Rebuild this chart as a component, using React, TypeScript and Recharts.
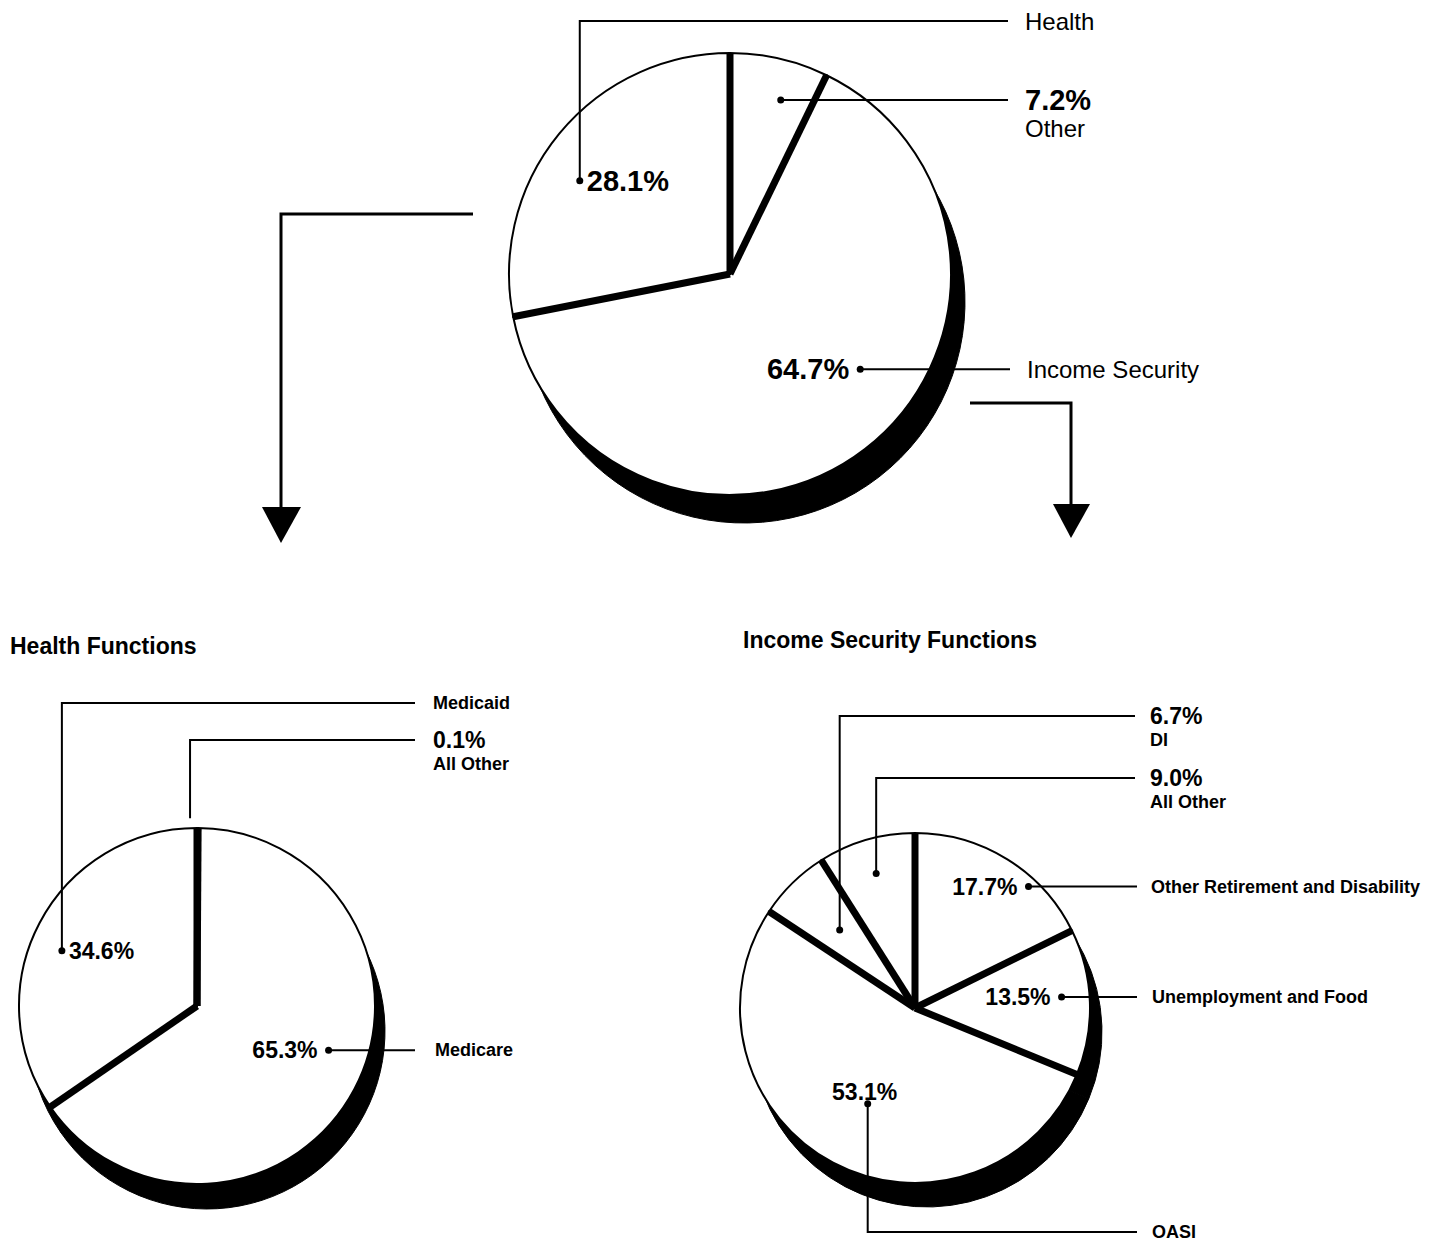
import { PieChart, Pie } from 'recharts';

const FONT = '"Liberation Sans", Arial, Helvetica, sans-serif';
const RAD = Math.PI / 180;
const W = 1436;
const H = 1244;

// Shares in percent, listed clockwise from twelve o'clock
const overviewNames = ['Other', 'Income Security', 'Health'];
const overviewShares = [7.2, 64.7, 28.1];

const healthNames = ['All Other', 'Medicare', 'Medicaid'];
const healthShares = [0.1, 65.3, 34.6];

const incomeNames = ['Other Retirement and Disability', 'Unemployment and Food', 'OASI', 'DI', 'All Other'];
const incomeShares = [17.7, 13.5, 53.1, 6.7, 9.0];

const rows = (names: string[], values: number[]) =>
  names.map((name, i) => ({ name, value: values[i] }));

const overviewData = rows(overviewNames, overviewShares);
const healthData = rows(healthNames, healthShares);
const incomeData = rows(incomeNames, incomeShares);

// pie placement: centre, radius and drop-shadow offset
const overviewPie = { cx: 730, cy: 274, r: 221, dx: 14, dy: 28 };
const healthPie = { cx: 197, cy: 1006, r: 178, dx: 10, dy: 25 };
const incomePie = { cx: 915, cy: 1008, r: 175, dx: 12, dy: 24 };

type Callout = {
  turn: number; // dot shift from the slice middle, degrees clockwise
  r: number; // dot distance as a fraction of the radius
  dot: boolean;
  bendY?: number; // leader runs vertically to this y before turning right
  lineEnd: number;
  textX: number;
  pct: 'left' | 'right' | 'stack' | 'above';
};

type TextStyle = { pctSize: number; nameSize: number; nameWeight: number; stackGap: number };

const overviewCallouts: Record<string, Callout> = {
  Other: { turn: 3.3, r: 0.82, dot: true, lineEnd: 1008, textX: 1025, pct: 'stack' },
  'Income Security': { turn: -16.2, r: 0.73, dot: true, lineEnd: 1010, textX: 1027, pct: 'left' },
  Health: { turn: -7.6, r: 0.8, dot: true, bendY: 21, lineEnd: 1008, textX: 1025, pct: 'right' },
};

const healthCallouts: Record<string, Callout> = {
  'All Other': { turn: -2.3, r: 1.056, dot: false, bendY: 740, lineEnd: 415, textX: 433, pct: 'stack' },
  Medicare: { turn: -9.3, r: 0.78, dot: true, lineEnd: 415, textX: 435, pct: 'left' },
  Medicaid: { turn: -5.5, r: 0.82, dot: true, bendY: 703, lineEnd: 415, textX: 433, pct: 'right' },
};

const incomeCallouts: Record<string, Callout> = {
  'Other Retirement and Disability': { turn: 11.2, r: 0.95, dot: true, lineEnd: 1137, textX: 1151, pct: 'left' },
  'Unemployment and Food': { turn: -2.3, r: 0.84, dot: true, lineEnd: 1137, textX: 1152, pct: 'left' },
  OASI: { turn: -1.6, r: 0.61, dot: true, bendY: 1232, lineEnd: 1137, textX: 1152, pct: 'above' },
  DI: { turn: 0.5, r: 0.62, dot: true, bendY: 716, lineEnd: 1135, textX: 1150, pct: 'stack' },
  'All Other': { turn: 0.1, r: 0.8, dot: true, bendY: 778, lineEnd: 1135, textX: 1150, pct: 'stack' },
};

const bigText: TextStyle = { pctSize: 29, nameSize: 24, nameWeight: 400, stackGap: 28 };
const smallText: TextStyle = { pctSize: 23, nameSize: 18, nameWeight: 700, stackGap: 24 };

// Draws the heavy slice divider plus the leader line and texts for one slice
function calloutRenderer(names: string[], values: number[], spec: Record<string, Callout>, ts: TextStyle) {
  return (props: any) => {
    const { cx, cy, outerRadius, startAngle, midAngle, index } = props;
    const name = names[index];
    const c = spec[name];
    const at = (deg: number, r: number) => [cx + r * Math.cos(-deg * RAD), cy + r * Math.sin(-deg * RAD)];
    const [sx, sy] = at(startAngle, outerRadius);
    const [px, py] = at(midAngle - c.turn, outerRadius * c.r);
    const rowY = c.bendY ?? py;
    const d = c.bendY !== undefined ? `M${px},${py}V${rowY}H${c.lineEnd}` : `M${px},${py}H${c.lineEnd}`;
    const pctText = `${values[index].toFixed(1)}%`;

    const pctProps = { fontFamily: FONT, fontSize: ts.pctSize, fontWeight: 700, fill: '#000', dominantBaseline: 'central' as const };
    let pct;
    if (c.pct === 'left') pct = <text x={px - 11} y={py} textAnchor="end" {...pctProps}>{pctText}</text>;
    else if (c.pct === 'right') pct = <text x={px + 7} y={py} textAnchor="start" {...pctProps}>{pctText}</text>;
    else if (c.pct === 'above') pct = <text x={px - 3} y={py - 12} textAnchor="middle" {...pctProps}>{pctText}</text>;
    else pct = <text x={c.textX} y={rowY} textAnchor="start" {...pctProps}>{pctText}</text>;

    const nameY = c.pct === 'stack' ? rowY + ts.stackGap : rowY;

    return (
      <g key={`callout-${index}`}>
        <line x1={cx} y1={cy} x2={sx} y2={sy} stroke="#000" strokeWidth={7} />
        <path d={d} fill="none" stroke="#000" strokeWidth={2} />
        {c.dot && <circle cx={px} cy={py} r={3.5} fill="#000" />}
        {pct}
        <text
          x={c.textX}
          y={nameY}
          fontFamily={FONT}
          fontSize={ts.nameSize}
          fontWeight={ts.nameWeight}
          fill="#000"
          dominantBaseline="central"
        >
          {name}
        </text>
      </g>
    );
  };
}

const overviewLabel = calloutRenderer(overviewNames, overviewShares, overviewCallouts, bigText);
const healthLabel = calloutRenderer(healthNames, healthShares, healthCallouts, smallText);
const incomeLabel = calloutRenderer(incomeNames, incomeShares, incomeCallouts, smallText);

export default function App() {
  return (
    <div style={{ position: 'absolute', left: 0, top: 0, width: W, height: H, background: '#fff' }}>
      <PieChart width={W} height={H} margin={{ top: 0, right: 0, bottom: 0, left: 0 }}>
        {/* drop shadows */}
        <Pie data={overviewData} dataKey="value" nameKey="name" cx={overviewPie.cx + overviewPie.dx} cy={overviewPie.cy + overviewPie.dy}
          outerRadius={overviewPie.r} startAngle={90} endAngle={-270} fill="#000" stroke="#000" isAnimationActive={false} />
        <Pie data={healthData} dataKey="value" nameKey="name" cx={healthPie.cx + healthPie.dx} cy={healthPie.cy + healthPie.dy}
          outerRadius={healthPie.r} startAngle={90} endAngle={-270} fill="#000" stroke="#000" isAnimationActive={false} />
        <Pie data={incomeData} dataKey="value" nameKey="name" cx={incomePie.cx + incomePie.dx} cy={incomePie.cy + incomePie.dy}
          outerRadius={incomePie.r} startAngle={90} endAngle={-270} fill="#000" stroke="#000" isAnimationActive={false} />

        <Pie data={overviewData} dataKey="value" nameKey="name" cx={overviewPie.cx} cy={overviewPie.cy}
          outerRadius={overviewPie.r} startAngle={90} endAngle={-270} fill="#fff" stroke="#000" strokeWidth={2}
          label={overviewLabel} labelLine={false} isAnimationActive={false} />
        <Pie data={healthData} dataKey="value" nameKey="name" cx={healthPie.cx} cy={healthPie.cy}
          outerRadius={healthPie.r} startAngle={90} endAngle={-270} fill="#fff" stroke="#000" strokeWidth={2}
          label={healthLabel} labelLine={false} isAnimationActive={false} />
        <Pie data={incomeData} dataKey="value" nameKey="name" cx={incomePie.cx} cy={incomePie.cy}
          outerRadius={incomePie.r} startAngle={90} endAngle={-270} fill="#fff" stroke="#000" strokeWidth={2}
          label={incomeLabel} labelLine={false} isAnimationActive={false} />
      </PieChart>

      {/* connector arrows and section titles */}
      <svg width={W} height={H} style={{ position: 'absolute', left: 0, top: 0, pointerEvents: 'none' }}>
        <path d="M473,214H281V508" fill="none" stroke="#000" strokeWidth={3} />
        <polygon points="262,507 301,507 281,543" fill="#000" />
        <path d="M970,403H1071V505" fill="none" stroke="#000" strokeWidth={3} />
        <polygon points="1053,504 1090,504 1071,538" fill="#000" />
        <text x={10} y={646} fontFamily={FONT} fontSize={23} fontWeight={700} dominantBaseline="central">
          Health Functions
        </text>
        <text x={743} y={640} fontFamily={FONT} fontSize={23} fontWeight={700} dominantBaseline="central">
          Income Security Functions
        </text>
      </svg>
    </div>
  );
}
